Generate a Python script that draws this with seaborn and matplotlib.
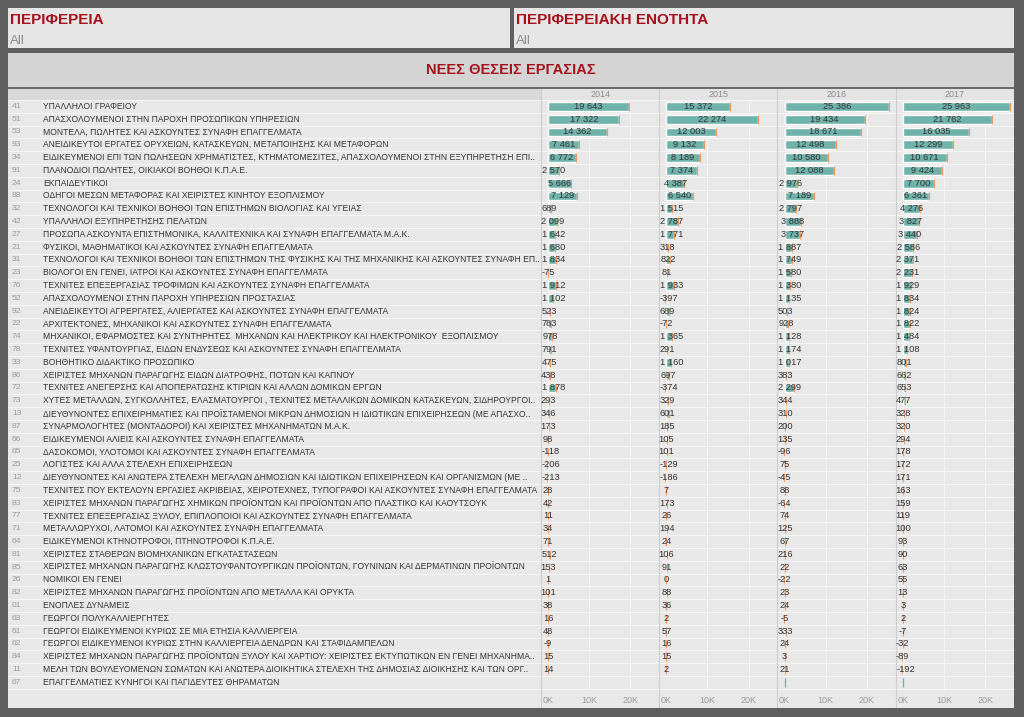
import matplotlib.pyplot as plt
import numpy as np
import pandas as pd
import seaborn as sns

# occupation codes and names (row order as shown)
CODES = ['41', '51', '53', '93', '34', '91', '24', '88', '32', '42', '27', '21',
         '31', '23', '76', '52', '92', '22', '74', '78', '33', '86', '72', '73',
         '13', '87', '66', '65', '25', '12', '75', '83', '77', '71', '64', '81',
         '85', '26', '82', '01', '63', '61', '62', '84', '11', '67']
NAMES = [
    'ΥΠΑΛΛΗΛΟΙ ΓΡΑΦΕΙΟΥ',
    'ΑΠΑΣΧΟΛΟΥΜΕΝΟΙ ΣΤΗΝ ΠΑΡΟΧΗ ΠΡΟΣΩΠΙΚΩΝ ΥΠΗΡΕΣΙΩΝ',
    'ΜΟΝΤΕΛΑ, ΠΩΛΗΤΕΣ ΚΑΙ ΑΣΚΟΥΝΤΕΣ ΣΥΝΑΦΗ ΕΠΑΓΓΕΛΜΑΤΑ',
    'ΑΝΕΙΔΙΚΕΥΤΟΙ ΕΡΓΑΤΕΣ ΟΡΥΧΕΙΩΝ, ΚΑΤΑΣΚΕΥΩΝ, ΜΕΤΑΠΟΙΗΣΗΣ ΚΑΙ ΜΕΤΑΦΟΡΩΝ',
    'ΕΙΔΙΚΕΥΜΕΝΟΙ ΕΠΙ ΤΩΝ ΠΩΛΗΣΕΩΝ ΧΡΗΜΑΤΙΣΤΕΣ, ΚΤΗΜΑΤΟΜΕΣΙΤΕΣ, ΑΠΑΣΧΟΛΟΥΜΕΝΟΙ ΣΤΗΝ ΕΞΥΠΗΡΕΤΗΣΗ ΕΠΙ..',
    'ΠΛΑΝΟΔΙΟΙ ΠΩΛΗΤΕΣ, ΟΙΚΙΑΚΟΙ ΒΟΗΘΟΙ Κ.Π.Α.Ε.',
    'ΕΚΠΑΙΔΕΥΤΙΚΟΙ',
    'ΟΔΗΓΟΙ ΜΕΣΩΝ ΜΕΤΑΦΟΡΑΣ ΚΑΙ ΧΕΙΡΙΣΤΕΣ ΚΙΝΗΤΟΥ ΕΞΟΠΛΙΣΜΟΥ',
    'ΤΕΧΝΟΛΟΓΟΙ ΚΑΙ ΤΕΧΝΙΚΟΙ ΒΟΗΘΟΙ ΤΩΝ ΕΠΙΣΤΗΜΩΝ ΒΙΟΛΟΓΙΑΣ ΚΑΙ ΥΓΕΙΑΣ',
    'ΥΠΑΛΛΗΛΟΙ ΕΞΥΠΗΡΕΤΗΣΗΣ ΠΕΛΑΤΩΝ',
    'ΠΡΟΣΩΠΑ ΑΣΚΟΥΝΤΑ ΕΠΙΣΤΗΜΟΝΙΚΑ, ΚΑΛΛΙΤΕΧΝΙΚΑ ΚΑΙ ΣΥΝΑΦΗ ΕΠΑΓΓΕΛΜΑΤΑ Μ.Α.Κ.',
    'ΦΥΣΙΚΟΙ, ΜΑΘΗΜΑΤΙΚΟΙ ΚΑΙ ΑΣΚΟΥΝΤΕΣ ΣΥΝΑΦΗ ΕΠΑΓΓΕΛΜΑΤΑ',
    'ΤΕΧΝΟΛΟΓΟΙ ΚΑΙ ΤΕΧΝΙΚΟΙ ΒΟΗΘΟΙ ΤΩΝ ΕΠΙΣΤΗΜΩΝ ΤΗΣ ΦΥΣΙΚΗΣ ΚΑΙ ΤΗΣ ΜΗΧΑΝΙΚΗΣ ΚΑΙ ΑΣΚΟΥΝΤΕΣ ΣΥΝΑΦΗ ΕΠ..',
    'ΒΙΟΛΟΓΟΙ ΕΝ ΓΕΝΕΙ, ΙΑΤΡΟΙ ΚΑΙ ΑΣΚΟΥΝΤΕΣ ΣΥΝΑΦΗ ΕΠΑΓΓΕΛΜΑΤΑ',
    'ΤΕΧΝΙΤΕΣ ΕΠΕΞΕΡΓΑΣΙΑΣ ΤΡΟΦΙΜΩΝ ΚΑΙ ΑΣΚΟΥΝΤΕΣ ΣΥΝΑΦΗ ΕΠΑΓΓΕΛΜΑΤΑ',
    'ΑΠΑΣΧΟΛΟΥΜΕΝΟΙ ΣΤΗΝ ΠΑΡΟΧΗ ΥΠΗΡΕΣΙΩΝ ΠΡΟΣΤΑΣΙΑΣ',
    'ΑΝΕΙΔΕΙΚΕΥΤΟΙ ΑΓΡΕΡΓΑΤΕΣ, ΑΛΙΕΡΓΑΤΕΣ ΚΑΙ ΑΣΚΟΥΝΤΕΣ ΣΥΝΑΦΗ ΕΠΑΓΓΕΛΜΑΤΑ',
    'ΑΡΧΙΤΕΚΤΟΝΕΣ, ΜΗΧΑΝΙΚΟΙ ΚΑΙ ΑΣΚΟΥΝΤΕΣ ΣΥΝΑΦΗ ΕΠΑΓΓΕΛΜΑΤΑ',
    'ΜΗΧΑΝΙΚΟΙ, ΕΦΑΡΜΟΣΤΕΣ ΚΑΙ ΣΥΝΤΗΡΗΤΕΣ  ΜΗΧΑΝΩΝ ΚΑΙ ΗΛΕΚΤΡΙΚΟΥ ΚΑΙ ΗΛΕΚΤΡΟΝΙΚΟΥ  ΕΞΟΠΛΙΣΜΟΥ',
    'ΤΕΧΝΙΤΕΣ ΥΦΑΝΤΟΥΡΓΙΑΣ, ΕΙΔΩΝ ΕΝΔΥΣΕΩΣ ΚΑΙ ΑΣΚΟΥΝΤΕΣ ΣΥΝΑΦΗ ΕΠΑΓΓΕΛΜΑΤΑ',
    'ΒΟΗΘΗΤΙΚΟ ΔΙΔΑΚΤΙΚΟ ΠΡΟΣΩΠΙΚΟ',
    'ΧΕΙΡΙΣΤΕΣ ΜΗΧΑΝΩΝ ΠΑΡΑΓΩΓΗΣ ΕΙΔΩΝ ΔΙΑΤΡΟΦΗΣ, ΠΟΤΩΝ ΚΑΙ ΚΑΠΝΟΥ',
    'ΤΕΧΝΙΤΕΣ ΑΝΕΓΕΡΣΗΣ ΚΑΙ ΑΠΟΠΕΡΑΤΩΣΗΣ ΚΤΙΡΙΩΝ ΚΑΙ ΑΛΛΩΝ ΔΟΜΙΚΩΝ ΕΡΓΩΝ',
    'ΧΥΤΕΣ ΜΕΤΑΛΛΩΝ, ΣΥΓΚΟΛΛΗΤΕΣ, ΕΛΑΣΜΑΤΟΥΡΓΟΙ , ΤΕΧΝΙΤΕΣ ΜΕΤΑΛΛΙΚΩΝ ΔΟΜΙΚΩΝ ΚΑΤΑΣΚΕΥΩΝ, ΣΙΔΗΡΟΥΡΓΟΙ..',
    'ΔΙΕΥΘΥΝΟΝΤΕΣ ΕΠΙΧΕΙΡΗΜΑΤΙΕΣ ΚΑΙ ΠΡΟΪΣΤΑΜΕΝΟΙ ΜΙΚΡΩΝ ΔΗΜΟΣΙΩΝ Η ΙΔΙΩΤΙΚΩΝ ΕΠΙΧΕΙΡΗΣΕΩΝ (ΜΕ ΑΠΑΣΧΟ..',
    'ΣΥΝΑΡΜΟΛΟΓΗΤΕΣ (ΜΟΝΤΑΔΟΡΟΙ) ΚΑΙ ΧΕΙΡΙΣΤΕΣ ΜΗΧΑΝΗΜΑΤΩΝ Μ.Α.Κ.',
    'ΕΙΔΙΚΕΥΜΕΝΟΙ ΑΛΙΕΙΣ ΚΑΙ ΑΣΚΟΥΝΤΕΣ ΣΥΝΑΦΗ ΕΠΑΓΓΕΛΜΑΤΑ',
    'ΔΑΣΟΚΟΜΟΙ, ΥΛΟΤΟΜΟΙ ΚΑΙ ΑΣΚΟΥΝΤΕΣ ΣΥΝΑΦΗ ΕΠΑΓΓΕΛΜΑΤΑ',
    'ΛΟΓΙΣΤΕΣ ΚΑΙ ΑΛΛΑ ΣΤΕΛΕΧΗ ΕΠΙΧΕΙΡΗΣΕΩΝ',
    'ΔΙΕΥΘΥΝΟΝΤΕΣ ΚΑΙ ΑΝΩΤΕΡΑ ΣΤΕΛΕΧΗ ΜΕΓΑΛΩΝ ΔΗΜΟΣΙΩΝ ΚΑΙ ΙΔΙΩΤΙΚΩΝ ΕΠΙΧΕΙΡΗΣΕΩΝ ΚΑΙ ΟΡΓΑΝΙΣΜΩΝ (ΜΕ ..',
    'ΤΕΧΝΙΤΕΣ ΠΟΥ ΕΚΤΕΛΟΥΝ ΕΡΓΑΣΙΕΣ ΑΚΡΙΒΕΙΑΣ, ΧΕΙΡΟΤΕΧΝΕΣ, ΤΥΠΟΓΡΑΦΟΙ ΚΑΙ ΑΣΚΟΥΝΤΕΣ ΣΥΝΑΦΗ ΕΠΑΓΓΕΛΜΑΤΑ',
    'ΧΕΙΡΙΣΤΕΣ ΜΗΧΑΝΩΝ ΠΑΡΑΓΩΓΗΣ ΧΗΜΙΚΩΝ ΠΡΟΪΟΝΤΩΝ ΚΑΙ ΠΡΟΪΟΝΤΩΝ ΑΠΟ ΠΛΑΣΤΙΚΟ ΚΑΙ ΚΑΟΥΤΣΟΥΚ',
    'ΤΕΧΝΙΤΕΣ ΕΠΕΞΕΡΓΑΣΙΑΣ ΞΥΛΟΥ, ΕΠΙΠΛΟΠΟΙΟΙ ΚΑΙ ΑΣΚΟΥΝΤΕΣ ΣΥΝΑΦΗ ΕΠΑΓΓΕΛΜΑΤΑ',
    'ΜΕΤΑΛΛΩΡΥΧΟΙ, ΛΑΤΟΜΟΙ ΚΑΙ ΑΣΚΟΥΝΤΕΣ ΣΥΝΑΦΗ ΕΠΑΓΓΕΛΜΑΤΑ',
    'ΕΙΔΙΚΕΥΜΕΝΟΙ ΚΤΗΝΟΤΡΟΦΟΙ, ΠΤΗΝΟΤΡΟΦΟΙ Κ.Π.Α.Ε.',
    'ΧΕΙΡΙΣΤΕΣ ΣΤΑΘΕΡΩΝ ΒΙΟΜΗΧΑΝΙΚΩΝ ΕΓΚΑΤΑΣΤΑΣΕΩΝ',
    'ΧΕΙΡΙΣΤΕΣ ΜΗΧΑΝΩΝ ΠΑΡΑΓΩΓΗΣ ΚΛΩΣΤΟΥΦΑΝΤΟΥΡΓΙΚΩΝ ΠΡΟΪΟΝΤΩΝ, ΓΟΥΝΙΝΩΝ ΚΑΙ ΔΕΡΜΑΤΙΝΩΝ ΠΡΟΪΟΝΤΩΝ',
    'ΝΟΜΙΚΟΙ ΕΝ ΓΕΝΕΙ',
    'ΧΕΙΡΙΣΤΕΣ ΜΗΧΑΝΩΝ ΠΑΡΑΓΩΓΗΣ ΠΡΟΪΟΝΤΩΝ ΑΠΟ ΜΕΤΑΛΛΑ ΚΑΙ ΟΡΥΚΤΑ',
    'ΕΝΟΠΛΕΣ ΔΥΝΑΜΕΙΣ',
    'ΓΕΩΡΓΟΙ ΠΟΛΥΚΑΛΛΙΕΡΓΗΤΕΣ',
    'ΓΕΩΡΓΟΙ ΕΙΔΙΚΕΥΜΕΝΟΙ ΚΥΡΙΩΣ ΣΕ ΜΙΑ ΕΤΗΣΙΑ ΚΑΛΛΙΕΡΓΕΙΑ',
    'ΓΕΩΡΓΟΙ ΕΙΔΙΚΕΥΜΕΝΟΙ ΚΥΡΙΩΣ ΣΤΗΝ ΚΑΛΛΙΕΡΓΕΙΑ ΔΕΝΔΡΩΝ ΚΑΙ ΣΤΑΦΙΔΑΜΠΕΛΩΝ',
    'ΧΕΙΡΙΣΤΕΣ ΜΗΧΑΝΩΝ ΠΑΡΑΓΩΓΗΣ ΠΡΟΪΟΝΤΩΝ ΞΥΛΟΥ ΚΑΙ ΧΑΡΤΙΟΥ: ΧΕΙΡΙΣΤΕΣ ΕΚΤΥΠΩΤΙΚΩΝ ΕΝ ΓΕΝΕΙ ΜΗΧΑΝΗΜΑ..',
    'ΜΕΛΗ ΤΩΝ ΒΟΥΛΕΥΟΜΕΝΩΝ ΣΩΜΑΤΩΝ ΚΑΙ ΑΝΩΤΕΡΑ ΔΙΟΙΚΗΤΙΚΑ ΣΤΕΛΕΧΗ ΤΗΣ ΔΗΜΟΣΙΑΣ ΔΙΟΙΚΗΣΗΣ ΚΑΙ ΤΩΝ ΟΡΓ..',
    'ΕΠΑΓΓΕΛΜΑΤΙΕΣ ΚΥΝΗΓΟΙ ΚΑΙ ΠΑΓΙΔΕΥΤΕΣ ΘΗΡΑΜΑΤΩΝ',
]

YEARS = ['2014', '2015', '2016', '2017']
VAL_2014 = [19643, 17322, 14362, 7461, 6772, 2570, 5666, 7129, 689, 2099, 1642,
            1680, 1834, -75, 1912, 1102, 523, 783, 978, 791, 475, 438, 1878,
            293, 346, 173, 98, -118, -206, -213, 28, 42, 11, 34, 71, 512, 153,
            1, 101, 38, 16, 48, -9, 15, 14, np.nan]
VAL_2015 = [15372, 22274, 12003, 9132, 8189, 7374, 4387, 6540, 1515, 2787, 1771,
            318, 822, 81, 1933, -397, 689, -72, 1365, 291, 1160, 697, -374,
            329, 601, 185, 105, 101, -129, -186, 7, 173, 26, 194, 24, 106, 91,
            0, 88, 36, 2, 57, 16, 15, 2, np.nan]
VAL_2016 = [25386, 19434, 18671, 12498, 10580, 12088, 2976, 7189, 2797, 3888,
            3737, 1887, 1749, 1580, 1380, 1135, 503, 928, 1128, 1174, 1017, 383,
            2299, 344, 310, 200, 135, -96, 75, -45, 88, -64, 74, 125, 67, 216,
            22, -22, 23, 24, -5, 333, 24, 3, 21, 0]
VAL_2017 = [25963, 21762, 16035, 12299, 10671, 9424, 7700, 6361, 4276, 3827,
            3440, 2586, 2371, 2231, 1929, 1834, 1824, 1822, 1484, 1108, 801, 662,
            653, 477, 328, 320, 294, 178, 172, 171, 163, 159, 119, 100, 93, 90,
            63, 55, 13, 3, 2, -7, -32, -89, -192, 0]
# row whose value marks carry no number label
UNLABELLED = ['67']

W, H = 1024, 717
DARK = '#5f5f5f'
RED = '#a6121c'
TEAL = '#6fb3ab'
ORANGE = '#f09a62'
FONT = ['Liberation Sans', 'DejaVu Sans']

sns.set_theme(style='white')
plt.rcParams['font.family'] = FONT

df = pd.DataFrame({'code': CODES, 'name': NAMES, '2014': VAL_2014,
                   '2015': VAL_2015, '2016': VAL_2016, '2017': VAL_2017})


def px_axes(fig, x0, y0, x1, y1):
    return fig.add_axes([x0 / W, 1 - y1 / H, (x1 - x0) / W, (y1 - y0) / H])


def box(fig, x0, y0, x1, y1, color):
    ax = px_axes(fig, x0, y0, x1, y1)
    ax.set_facecolor(color)
    ax.set_xticks([])
    ax.set_yticks([])
    for s in ax.spines.values():
        s.set_visible(False)
    return ax


fig = plt.figure(figsize=(W / 100, H / 100), dpi=100, facecolor=DARK)

# filter cards
for x0, x1, title in [(8, 510, 'ΠΕΡΙΦΕΡΕΙΑ'), (514, 1014, 'ΠΕΡΙΦΕΡΕΙΑΚΗ ΕΝΟΤΗΤΑ')]:
    card = box(fig, x0, 8, x1, 48, '#e6e6e6')
    card.text(0.004, 0.7, title, transform=card.transAxes, color=RED,
              fontsize=11, fontweight='bold', va='center', ha='left')
    card.text(0.004, 0.17, 'All', transform=card.transAxes, color='#8c8c8c',
              fontsize=9.5, va='center', ha='left')

# title band
band = box(fig, 8, 53, 1014, 87, '#d4d4d4')
band.text(0.5, 0.5, 'ΝΕΕΣ ΘΕΣΕΙΣ ΕΡΓΑΣΙΑΣ', transform=band.transAxes,
          color=RED, fontsize=10.5, fontweight='bold', ha='center', va='center')
box(fig, 8, 87, 1014, 89, '#6b6b6b')

# table body
TOP, ROW_H = 100, 12.8
n = len(CODES)
bottom = TOP + ROW_H * n
PANEL_X0, PANEL_W = 541, 118.25
tab = box(fig, 8, 89, 1014, 708, '#e8e8e8')
tab.set_xlim(8, 1014)
tab.set_ylim(708, 89)
tab.fill_between([8, PANEL_X0], 89, TOP, color='#d9d9d9', lw=0)
tab.fill_between([PANEL_X0, 1014], 89, TOP, color='#e4e4e4', lw=0)
for i in range(n + 1):
    tab.axhline(TOP + ROW_H * i, color='#f6f6f6', lw=0.7)
for i, (code, name) in enumerate(zip(CODES, NAMES)):
    yc = TOP + ROW_H * (i + 0.5)
    tab.text(12, yc, code, color='#9a9a9a', fontsize=6.1, va='center')
    tab.text(43, yc, name, color='#333333', fontsize=6.15, va='center')

for k in range(5):
    tab.axvline(PANEL_X0 + PANEL_W * k, color='#cdcdcd', lw=0.8)

XMIN, XMAX = -1700, 27000
px_per_unit = PANEL_W / (XMAX - XMIN)

for k, year in enumerate(YEARS):
    x0 = PANEL_X0 + PANEL_W * k
    tab.text(x0 + PANEL_W / 2, (89 + TOP) / 2, year, color='#8a8a8a',
             fontsize=6.5, ha='center', va='center')
    bax = px_axes(fig, x0, TOP, x0 + PANEL_W, bottom)
    bax.patch.set_alpha(0)
    for v in (10000, 20000):
        bax.axvline(v, color='#f4f4f4', lw=0.8, zorder=0)
    sns.barplot(data=df, x=year, y='code', order=CODES, orient='h',
                color=TEAL, saturation=1, width=0.7, ax=bax, zorder=2)
    for i, (code, v) in enumerate(zip(df['code'], df[year])):
        if np.isnan(v):
            continue
        if code in UNLABELLED:
            bax.vlines(v, i - 0.35, i + 0.35, color=TEAL, lw=1, zorder=3)
            continue
        bax.vlines(v, i - 0.35, i + 0.35, color=ORANGE, lw=0.9, zorder=3)
        label = f'{int(v):,}'.replace(',', ' ')
        half = len(label) * 4.4 / 2 / px_per_unit
        xc = v / 2
        if xc - half < XMIN:
            bax.text(XMIN + 0.5 / px_per_unit, i, label, ha='left',
                     va='center', fontsize=6.7, color='#333333', zorder=4)
        else:
            bax.text(xc, i, label, ha='center', va='center', fontsize=6.7,
                     color='#333333', zorder=4)
    bax.set_xlim(XMIN, XMAX)
    bax.set_ylim(n - 0.5, -0.5)
    bax.set_xticks([0, 10000, 20000])
    bax.set_xticklabels(['0K', '10K', '20K'])
    bax.tick_params(axis='x', length=0, pad=5, labelsize=6.5,
                    labelcolor='#9a9a9a')
    bax.set_yticks([])
    bax.set_xlabel('')
    bax.set_ylabel('')
    for s in bax.spines.values():
        s.set_visible(False)

fig.savefig('out.png', dpi=100, facecolor=DARK)
